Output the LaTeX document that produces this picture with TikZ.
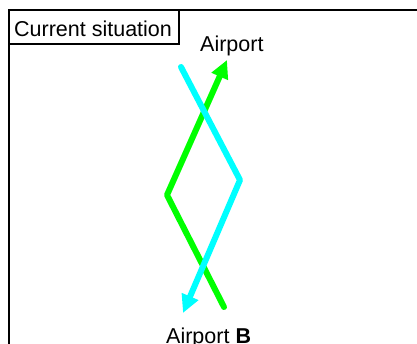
\documentclass[tikz,border=0pt]{standalone}
\usepackage{fontspec}
\setmainfont{Liberation Sans}
\usetikzlibrary{arrows.meta}
\definecolor{routeA}{RGB}{0,255,0}
\definecolor{routeB}{RGB}{0,255,255}
\tikzset{
  frame/.style={draw=black, line width=1.3pt},
  label/.style={inner sep=0pt, anchor=base west, font=\fontsize{21.5}{24}\selectfont},
  route/.style={line width=6pt, line cap=round, line join=round,
    -{Triangle[length=18pt,width=17pt]}},
}
\begin{document}
\begin{tikzpicture}[x=1pt,y=-1pt]
  \useasboundingbox (0,0) rectangle (417,343);
  \clip (0,0) rectangle (417,343);
  % outer panel and its title tab
  \draw[frame] (9,360) -- (9,10) -- (440,10);
  \draw[frame] (9,10) rectangle (179,44);
  \node[label] (title) at (14,36) {Current situation};
  % airport labels
  \node[label] (top) at (200,51) {Airport};
  \node[label] (bottom) at (166,343) {Airport \textbf{B}};
  % route points
  \coordinate (gStart) at (224,307);
  \coordinate (gBend) at (167,195);
  \coordinate (gEnd) at (227,60);
  \coordinate (cStart) at (181,67);
  \coordinate (cBend) at (240,180);
  \coordinate (cEnd) at (183,313);
  \draw[route, draw=routeA] (gStart) -- (gBend) -- (gEnd);
  \draw[route, draw=routeB] (cStart) -- (cBend) -- (cEnd);
\end{tikzpicture}
\end{document}
